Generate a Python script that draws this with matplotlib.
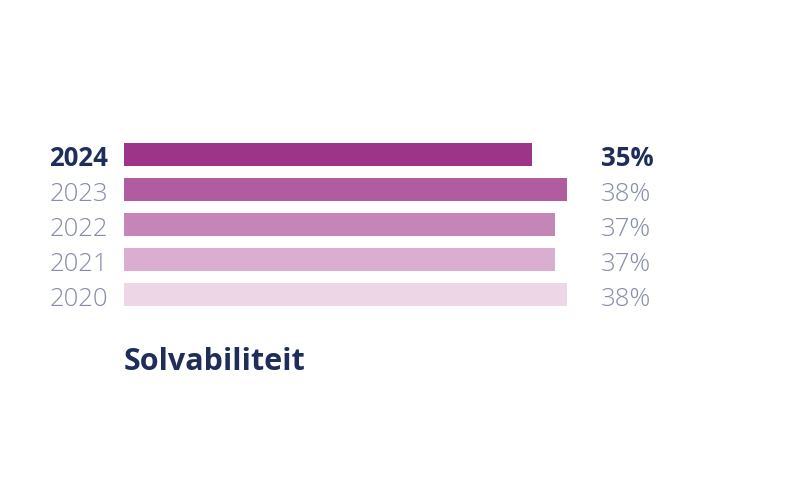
import matplotlib

matplotlib.use("Agg")
import matplotlib.pyplot as plt
from matplotlib.transforms import offset_copy


YEARS = ["2024", "2023", "2022", "2021", "2020"]
VALUES = [35, 38, 37, 37, 38]
VALUE_LABELS = ["35%", "38%", "37%", "37%", "38%"]
BAR_COLORS = ["#9c3587", "#b05c9f", "#c585b7", "#d9aed0", "#edd7e7"]
TITLE = "Solvabiliteit"

NAVY = "#1f2d5a"
GREY = "#858da9"


def main() -> None:
    plt.rcParams["font.family"] = ["Open Sans", "DejaVu Sans"]
    figure = plt.figure(figsize=(8.01, 5.01), dpi=100)
    axis = figure.add_axes([124 / 801, 189 / 501, 466.4 / 801, 175 / 501])

    positions = range(len(YEARS))
    axis.barh(list(positions), VALUES, height=0.65, color=BAR_COLORS)
    axis.set_xlim(0, 40)
    axis.set_ylim(-0.5, len(YEARS) - 0.5)
    axis.invert_yaxis()
    axis.axis("off")

    trans = offset_copy(axis.get_yaxis_transform(), fig=figure, x=0, y=-8, units="points")
    for index, (year, label) in enumerate(zip(YEARS, VALUE_LABELS)):
        latest = index == 0
        style = dict(
            fontsize=18.5,
            color=NAVY if latest else GREY,
            fontweight="bold" if latest else "light",
            va="baseline",
            transform=trans,
        )
        axis.text(-0.034, index, year, ha="right", **style)
        axis.text(1.023, index, label, ha="left", **style)

    figure.text(
        124 / 801,
        1 - 370 / 501,
        TITLE,
        fontsize=22,
        fontweight="bold",
        color=NAVY,
        ha="left",
        va="baseline",
    )

    figure.savefig("out.png", dpi=100)
    plt.close(figure)


if __name__ == "__main__":
    main()
